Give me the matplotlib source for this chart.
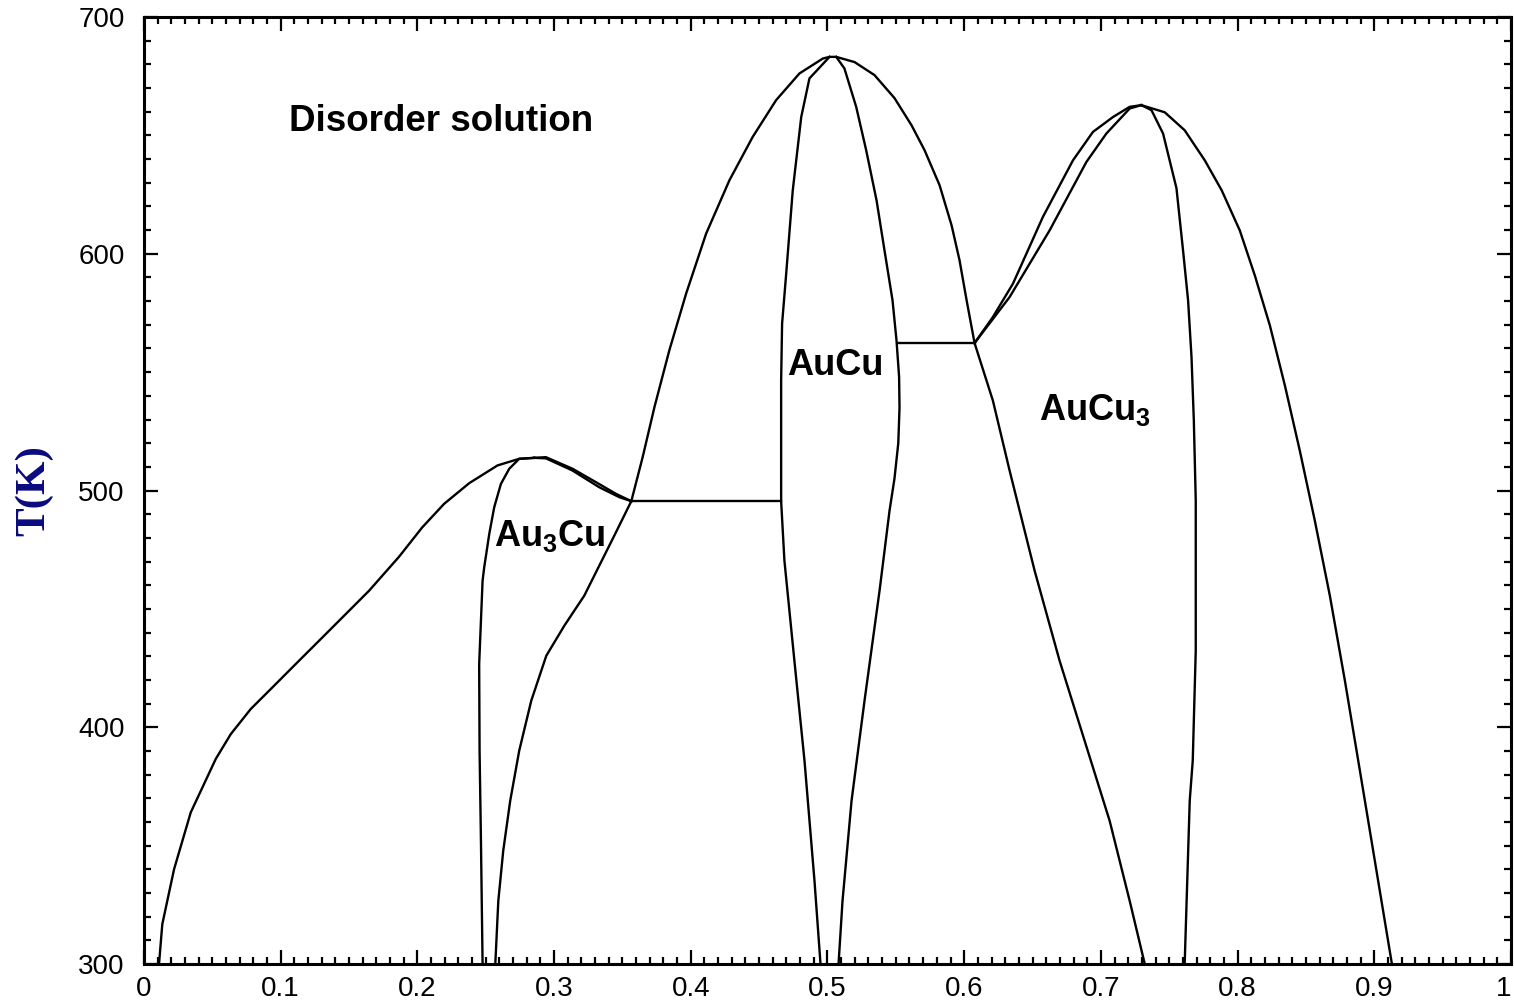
import matplotlib
matplotlib.use("Agg")
import matplotlib.pyplot as plt
from matplotlib.ticker import MultipleLocator

plt.rcParams['font.family'] = ['Liberation Sans', 'DejaVu Sans']
plt.rcParams['mathtext.default'] = 'regular'

# --- phase boundaries (composition x, temperature T in K) ---
# disorder / (disorder + Au3Cu), left branch up to the Au3Cu top
dis_au3cu_x = [0.011, 0.0134, 0.022, 0.0342, 0.0427, 0.0525, 0.0635, 0.0781, 0.0939, 0.111,
               0.1294, 0.1488, 0.1647, 0.1867, 0.2035, 0.2196, 0.2379, 0.2586, 0.2745, 0.2855]
dis_au3cu_T = [300, 316.8, 340, 364, 374.5, 386.6, 397.1, 407.7, 416.8, 426.7,
               437.3, 448.5, 457.7, 472.1, 484.4, 494.4, 503.1, 510.6, 513.4, 513.8]
# Au3Cu top, right side (two close lines)
au3cu_top_out_x = [0.2855, 0.294, 0.3135, 0.3307, 0.3453, 0.3565]
au3cu_top_out_T = [513.8, 514.1, 509.2, 503.5, 498.6, 495.5]
au3cu_top_in_x = [0.2855, 0.294, 0.3133, 0.333, 0.3477, 0.3565]
au3cu_top_in_T = [513.8, 513.6, 508.5, 501.4, 497.2, 495.5]
# Au3Cu single phase, left boundary
au3cu_left_x = [0.2855, 0.2745, 0.2672, 0.2611, 0.2562, 0.2526, 0.2489, 0.2477, 0.2452, 0.2455,
                0.2465, 0.2477]
au3cu_left_T = [513.8, 513.4, 509.2, 502.8, 492.9, 481.7, 467.6, 461.9, 426.7, 390,
                352, 300]
# (Au3Cu + disorder) lower boundary, Au3Cu right side
au3cu_right_x = [0.257, 0.2592, 0.2628, 0.2679, 0.2745, 0.2833, 0.2943, 0.3075, 0.3221, 0.3331,
                 0.3441, 0.3565]
au3cu_right_T = [300, 326.6, 347.8, 368.9, 390.1, 411.2, 430.2, 442.9, 455.6, 468.3,
                 481, 495.5]
# eutectoid lines
eut1_x = [0.3565, 0.4661]
eut1_T = [495.5, 495.5]
eut2_x = [0.5515, 0.6076]
eut2_T = [562.3, 562.3]
# AuCu dome, outer
aucu_out_x = [0.3565, 0.3648, 0.3734, 0.3843, 0.3966, 0.4112, 0.4283, 0.4453, 0.4624, 0.4795,
              0.4966, 0.5015, 0.5064, 0.5198, 0.5344, 0.549, 0.5615, 0.571, 0.582, 0.5908,
              0.5966, 0.6018, 0.6076]
aucu_out_T = [495.5, 514.1, 535.2, 559.2, 583.2, 608.5, 631.1, 649.4, 664.9, 676.2,
              682.5, 683.2, 683.2, 681, 675.5, 665.8, 654.3, 643.8, 629, 612,
              597.3, 580.3, 562.3]
# AuCu single phase, left boundary
aucu_left_x = [0.5015, 0.4868, 0.4808, 0.4746, 0.4698, 0.4668, 0.4661, 0.4661, 0.4685, 0.4758,
               0.4832, 0.4905, 0.4949]
aucu_left_T = [683.2, 674.1, 657.8, 626.8, 591.6, 570.5, 546.5, 495.5, 470.4, 428.1,
               385.8, 335.1, 300]
# AuCu single phase, right boundary
aucu_right_x = [0.5064, 0.5124, 0.521, 0.5283, 0.5359, 0.5417, 0.5476, 0.5505, 0.5524, 0.5527,
                0.5518, 0.549, 0.5454, 0.5381, 0.5271, 0.5176, 0.511, 0.5081]
aucu_right_T = [683.2, 678.3, 662.1, 643.8, 622.6, 601.5, 580.3, 563.4, 548, 535,
                520, 505, 491.5, 457.7, 411.2, 368.9, 326.6, 300]
# AuCu3 top, left side (two close lines)
aucu3_top_out_x = [0.6076, 0.621, 0.6357, 0.6576, 0.6796, 0.6942, 0.7089, 0.7211, 0.7296]
aucu3_top_out_T = [562.3, 573.3, 587.4, 615.6, 639.5, 651.5, 657.8, 662.1, 662.8]
aucu3_top_in_x = [0.6076, 0.6332, 0.6625, 0.6894, 0.704, 0.7211, 0.7296]
aucu3_top_in_T = [562.3, 581.7, 609.9, 638.8, 650.8, 661.4, 662.8]
# (AuCu + AuCu3) / AuCu3 left boundary below the eutectoid
aucu3_low_x = [0.6076, 0.621, 0.6332, 0.6515, 0.6698, 0.6881, 0.7064, 0.7211, 0.7321]
aucu3_low_T = [562.3, 538, 508.5, 466.2, 428.1, 394.3, 360.5, 326.6, 300]
# AuCu3 single phase, right boundary
aucu3_right_x = [0.7296, 0.737, 0.7455, 0.7553, 0.7601, 0.7638, 0.7663, 0.768, 0.7694, 0.7694,
                 0.7672, 0.765, 0.7613]
aucu3_right_T = [662.8, 660.7, 650.8, 627.7, 601.5, 580.3, 556.4, 529.6, 495.8, 432.3,
                 385.8, 369, 300]
# disorder / AuCu3 outer right
aucu3_out_x = [0.7296, 0.7467, 0.7613, 0.776, 0.7884, 0.8016, 0.8126, 0.8236, 0.8346, 0.8455,
               0.8565, 0.8675, 0.8785, 0.8895, 0.9004, 0.9129]
aucu3_out_T = [662.8, 659.8, 652.2, 639.5, 626.8, 609.9, 590.9, 569.8, 544.4, 516.9,
               487.3, 455.6, 419.7, 381.6, 343.6, 300]

curves = [
    (dis_au3cu_x, dis_au3cu_T), (au3cu_top_out_x, au3cu_top_out_T), (au3cu_top_in_x, au3cu_top_in_T),
    (au3cu_left_x, au3cu_left_T), (au3cu_right_x, au3cu_right_T), (eut1_x, eut1_T), (eut2_x, eut2_T),
    (aucu_out_x, aucu_out_T), (aucu_left_x, aucu_left_T), (aucu_right_x, aucu_right_T),
    (aucu3_top_out_x, aucu3_top_out_T), (aucu3_top_in_x, aucu3_top_in_T), (aucu3_low_x, aucu3_low_T),
    (aucu3_right_x, aucu3_right_T), (aucu3_out_x, aucu3_out_T),
]

x_ticks = [0, 0.1, 0.2, 0.3, 0.4, 0.5, 0.6, 0.7, 0.8, 0.9, 1]
x_labels = ['0', '0.1', '0.2', '0.3', '0.4', '0.5', '0.6', '0.7', '0.8', '0.9', '1']
y_ticks = [300, 400, 500, 600, 700]

fig = plt.figure(figsize=(15.14, 10.06), dpi=100)
ax = fig.add_axes([0.0951, 0.0418, 0.9029, 0.9412])

for xs, ts in curves:
    ax.plot(xs, ts, color='black', lw=1.7, solid_joinstyle='round')

ax.set_xlim(0, 1)
ax.set_ylim(300, 700)
ax.set_xticks(x_ticks)
ax.set_xticklabels(x_labels)
ax.set_yticks(y_ticks)
ax.xaxis.set_minor_locator(MultipleLocator(0.01))
ax.yaxis.set_minor_locator(MultipleLocator(10))
ax.tick_params(which='both', direction='in', top=True, right=True, width=1.6, labelsize=20)
ax.tick_params(which='major', length=10)
ax.tick_params(axis='x', which='major', pad=9)
ax.tick_params(axis='y', which='major', pad=14)
ax.tick_params(which='minor', length=5)
ax.get_xticklabels()[-1].set_horizontalalignment('right')
for s in ax.spines.values():
    s.set_linewidth(2.2)

ax.set_ylabel('T(K)', family='Liberation Serif', fontweight='bold', fontsize=31,
              color='#0a0a80', labelpad=18)

ax.text(0.106, 652, 'Disorder solution', fontsize=26.5, fontweight='bold', va='baseline')
ax.text(0.2562, 476.7, 'Au$_3$Cu', fontsize=26, fontweight='bold', va='baseline')
ax.text(0.4707, 548.6, 'AuCu', fontsize=26, fontweight='bold', va='baseline')
ax.text(0.655, 529.6, 'AuCu$_3$', fontsize=26, fontweight='bold', va='baseline')

fig.savefig('out.png', dpi=100)
